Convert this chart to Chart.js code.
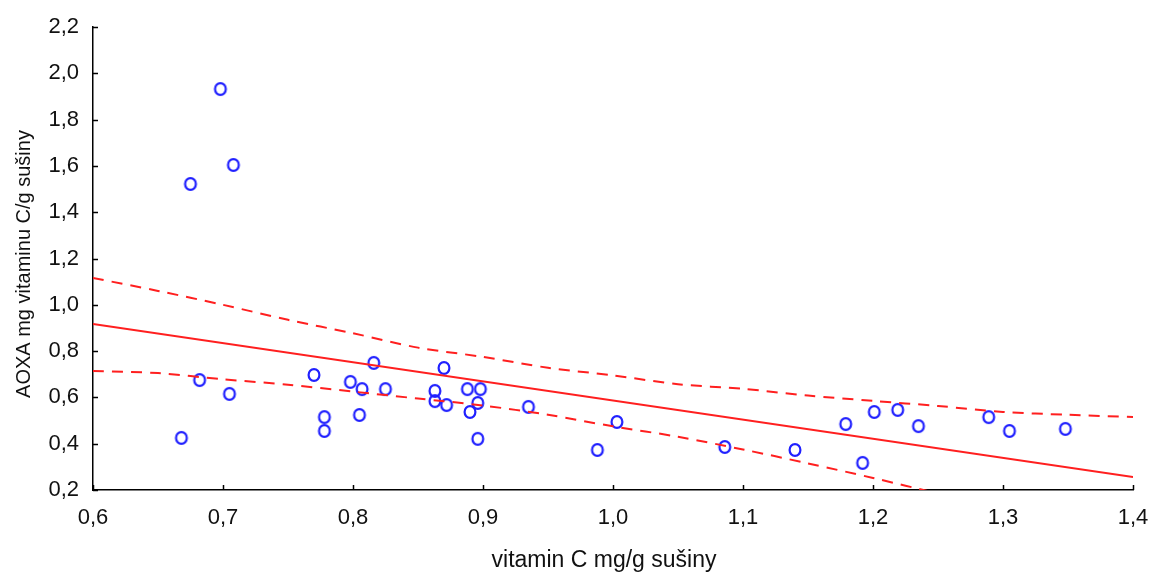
<!DOCTYPE html>
<html>
<head>
<meta charset="utf-8">
<script src="https://cdn.jsdelivr.net/npm/chart.js@4/dist/chart.umd.min.js"></script>
<style>
  html, body { margin: 0; padding: 0; background: #ffffff; }
  #wrap { width: 1152px; height: 573px; position: relative; }
</style>
</head>
<body>
<div id="wrap"><canvas id="c" width="1152" height="573"></canvas></div>
<script>
// Measured samples: vitamin C content vs. AOXA
const vitaminC = [0.668, 0.675, 0.698, 0.708, 0.682, 0.705, 0.770, 0.778, 0.778, 0.798,
                  0.807, 0.805, 0.816, 0.825, 0.863, 0.863, 0.870, 0.872, 0.888, 0.898,
                  0.896, 0.890, 0.896, 0.935, 0.988, 1.003, 1.086, 1.140, 1.179, 1.192,
                  1.201, 1.219, 1.235, 1.289, 1.305, 1.348];
const aoxa = [0.425, 1.522, 1.932, 1.604, 0.675, 0.615, 0.697, 0.515, 0.455, 0.667,
              0.636, 0.524, 0.749, 0.636, 0.628, 0.584, 0.727, 0.567, 0.636, 0.636,
              0.576, 0.537, 0.421, 0.559, 0.373, 0.494, 0.386, 0.373, 0.485, 0.317,
              0.537, 0.546, 0.476, 0.515, 0.455, 0.464];

// Fitted regression line (end points)
const fitX = [0.6, 1.4];
const fitY = [0.917, 0.256];

// 95% confidence band of the fit
const bandX = [0.6, 0.65, 0.7, 0.75, 0.8, 0.85, 0.9, 0.95, 1.0, 1.05, 1.1, 1.15, 1.2, 1.25, 1.3, 1.35, 1.4];
const bandUpper = [1.116, 1.060, 1.000, 0.935, 0.877, 0.815, 0.775, 0.728, 0.695, 0.657, 0.637, 0.608, 0.585, 0.563, 0.537, 0.525, 0.515];
const bandLower = [0.714, 0.705, 0.678, 0.655, 0.625, 0.595, 0.565, 0.525, 0.475, 0.430, 0.375, 0.315, 0.252, 0.185, 0.120, 0.060, 0.000];

// Axis ticks and titles
const xTicks = [0.6, 0.7, 0.8, 0.9, 1.0, 1.1, 1.2, 1.3, 1.4];
const yTicks = [0.2, 0.4, 0.6, 0.8, 1.0, 1.2, 1.4, 1.6, 1.8, 2.0, 2.2];
const xTitle = 'vitamin C mg/g sušiny';
const yTitle = 'AOXA mg vitaminu C/g sušiny';

const FONT = '"Liberation Sans", Arial, sans-serif';
const RED = '#ff1f1f';
const BLUE = '#2020ff';

const zip = (xs, ys) => xs.map((x, i) => ({ x: x, y: ys[i] }));
const fmt = v => Number(v).toFixed(1).replace('.', ',');

// Hollow, slightly upright ellipse used as the sample marker
const marker = (() => {
  const c = document.createElement('canvas');
  c.width = 18; c.height = 18;
  const g = c.getContext('2d');
  g.strokeStyle = BLUE;
  g.lineWidth = 2.2;
  g.beginPath();
  g.ellipse(9, 9, 5.4, 5.9, 0, 0, Math.PI * 2);
  g.stroke();
  return c;
})();

// Inward tick marks on both axes
const innerTicks = {
  id: 'innerTicks',
  afterDatasetsDraw(chart) {
    const ctx = chart.ctx;
    const xs = chart.scales.x, ys = chart.scales.y;
    const a = chart.chartArea;
    ctx.save();
    ctx.strokeStyle = '#000';
    ctx.lineWidth = 1.5;
    ctx.beginPath();
    xs.ticks.forEach(t => {
      const px = Math.round(xs.getPixelForValue(t.value)) + 0.5;
      ctx.moveTo(px, a.bottom);
      ctx.lineTo(px, a.bottom - 5);
    });
    ys.ticks.forEach(t => {
      const py = Math.round(ys.getPixelForValue(t.value)) + 0.5;
      ctx.moveTo(a.left, py);
      ctx.lineTo(a.left + 5, py);
    });
    ctx.stroke();
    ctx.restore();
  }
};

// Axis titles
const axisTitles = {
  id: 'axisTitles',
  afterDraw(chart) {
    const ctx = chart.ctx;
    ctx.save();
    ctx.fillStyle = '#111';
    ctx.textAlign = 'center';
    ctx.textBaseline = 'middle';
    ctx.font = '23px ' + FONT;
    ctx.fillText(xTitle, 604, 561);
    ctx.font = '20px ' + FONT;
    ctx.translate(24, 264);
    ctx.rotate(-Math.PI / 2);
    ctx.fillText(yTitle, 0, 0);
    ctx.restore();
  }
};

new Chart(document.getElementById('c'), {
  type: 'scatter',
  data: {
    datasets: [
      {
        label: 'upper',
        data: zip(bandX, bandUpper),
        showLine: true,
        borderColor: RED,
        borderWidth: 2,
        borderDash: [11, 8],
        pointRadius: 0,
        tension: 0.3,
        fill: false
      },
      {
        label: 'lower',
        data: zip(bandX, bandLower),
        showLine: true,
        borderColor: RED,
        borderWidth: 2,
        borderDash: [11, 8],
        pointRadius: 0,
        tension: 0.3,
        fill: false
      },
      {
        label: 'fit',
        data: zip(fitX, fitY),
        showLine: true,
        borderColor: RED,
        borderWidth: 2,
        pointRadius: 0,
        fill: false
      },
      {
        label: 'AOXA',
        data: zip(vitaminC, aoxa),
        showLine: false,
        pointStyle: marker,
        pointRadius: 7,
        clip: false
      }
    ]
  },
  options: {
    responsive: false,
    devicePixelRatio: 1,
    animation: false,
    layout: { padding: { top: 27, right: 19, left: 0, bottom: 0 } },
    plugins: {
      legend: { display: false },
      tooltip: { enabled: false },
      title: { display: false }
    },
    scales: {
      x: {
        type: 'linear',
        min: 0.6,
        max: 1.4,
        grid: { display: false, drawTicks: false },
        border: { display: true, color: '#000', width: 1.5 },
        afterBuildTicks: s => { s.ticks = xTicks.map(v => ({ value: v })); },
        afterFit: s => { s.height = 83; s.paddingLeft = 0; s.paddingRight = 0; },
        ticks: {
          color: '#111',
          font: { family: FONT, size: 22 },
          padding: 15,
          maxRotation: 0,
          callback: v => fmt(v)
        }
      },
      y: {
        type: 'linear',
        min: 0.2,
        max: 2.2,
        grid: { display: false, drawTicks: false },
        border: { display: true, color: '#000', width: 1.5 },
        afterBuildTicks: s => { s.ticks = yTicks.map(v => ({ value: v })); },
        afterFit: s => { s.width = 93; s.paddingTop = 0; s.paddingBottom = 0; },
        ticks: {
          color: '#111',
          font: { family: FONT, size: 22 },
          padding: 14,
          callback: v => fmt(v)
        }
      }
    }
  },
  plugins: [innerTicks, axisTitles]
});
</script>
</body>
</html>
